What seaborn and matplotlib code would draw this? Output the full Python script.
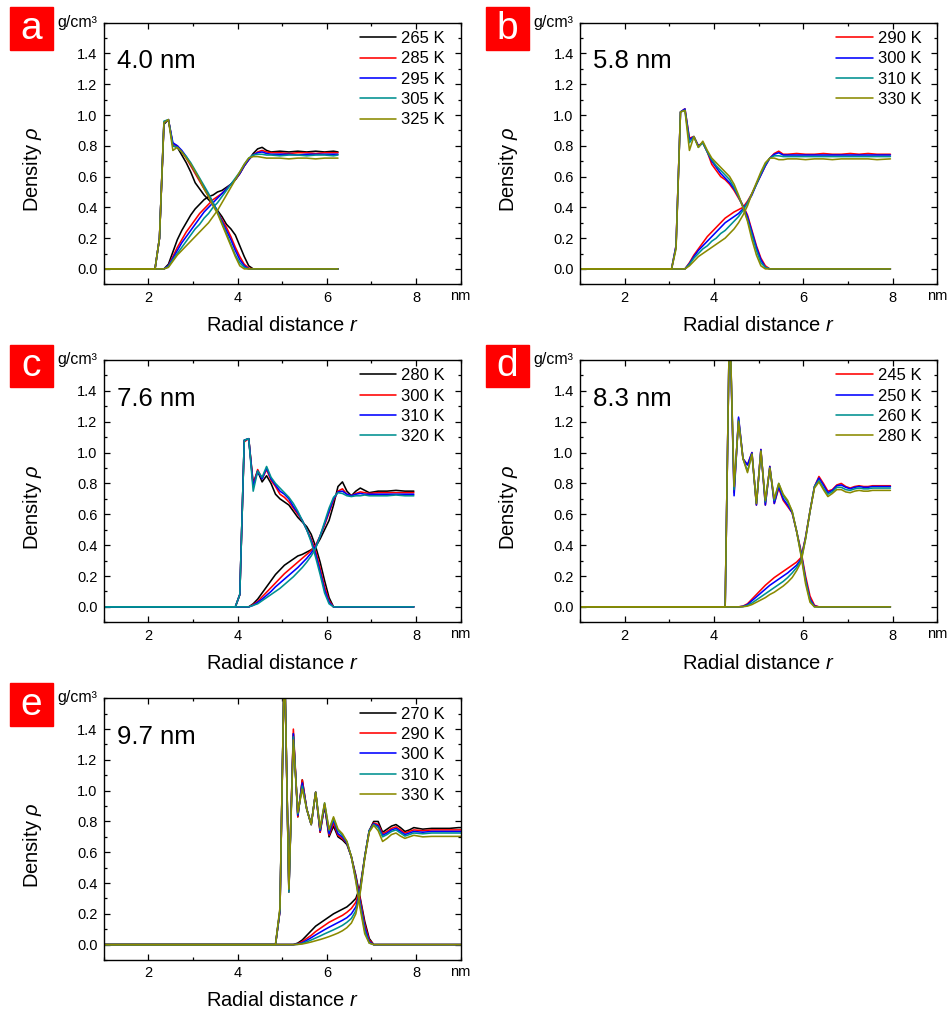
import numpy as np
import pandas as pd
import matplotlib
matplotlib.use("Agg")
import matplotlib.pyplot as plt
from matplotlib.patches import Rectangle
from matplotlib.ticker import MultipleLocator, FixedLocator
import seaborn as sns

# ---------------- data ----------------
# panel a : 4.0 nm
a_temps = ["265 K", "285 K", "295 K", "305 K", "325 K"]
r_a_in = [1.0, 2.15, 2.25, 2.35, 2.45, 2.55, 2.65, 2.75, 2.85, 2.95, 3.05, 3.15, 3.25, 3.35,
          3.45, 3.55, 3.65, 3.75, 3.85, 3.95, 4.05, 4.15, 4.25, 4.35, 6.25]
a_in = [
    [0, 0, 0.20, 0.94, 0.97, 0.80, 0.79, 0.74, 0.69, 0.63, 0.56, 0.52, 0.48, 0.45, 0.42, 0.38, 0.34, 0.29, 0.26, 0.22, 0.15, 0.08, 0.02, 0, 0],
    [0, 0, 0.20, 0.95, 0.97, 0.81, 0.80, 0.76, 0.72, 0.67, 0.62, 0.57, 0.52, 0.47, 0.42, 0.37, 0.32, 0.27, 0.21, 0.14, 0.08, 0.03, 0.005, 0, 0],
    [0, 0, 0.20, 0.95, 0.97, 0.82, 0.80, 0.77, 0.73, 0.68, 0.63, 0.58, 0.53, 0.48, 0.43, 0.37, 0.31, 0.25, 0.19, 0.12, 0.06, 0.02, 0, 0, 0],
    [0, 0, 0.20, 0.96, 0.97, 0.80, 0.79, 0.76, 0.73, 0.69, 0.64, 0.59, 0.54, 0.49, 0.43, 0.37, 0.30, 0.23, 0.16, 0.09, 0.04, 0.01, 0, 0, 0],
    [0, 0, 0.20, 0.95, 0.97, 0.77, 0.79, 0.76, 0.72, 0.68, 0.63, 0.58, 0.52, 0.47, 0.41, 0.36, 0.29, 0.22, 0.15, 0.08, 0.02, 0, 0, 0, 0],
]
r_a_out = [1.0, 2.35, 2.45, 2.55, 2.65, 2.75, 2.85, 2.95, 3.05, 3.15, 3.25, 3.35, 3.45, 3.55,
           3.65, 3.75, 3.85, 3.95, 4.05, 4.15, 4.25, 4.35, 4.45, 4.55, 4.65, 4.75, 4.95, 5.15,
           5.35, 5.55, 5.75, 5.95, 6.15, 6.25]
a_out = [
    [0, 0, 0.03, 0.11, 0.19, 0.25, 0.30, 0.35, 0.39, 0.42, 0.45, 0.47, 0.48, 0.50, 0.51, 0.53, 0.55, 0.58, 0.62, 0.67, 0.71, 0.75, 0.78, 0.79, 0.77, 0.76, 0.765, 0.76, 0.765, 0.76, 0.765, 0.76, 0.765, 0.76],
    [0, 0, 0.02, 0.08, 0.14, 0.19, 0.24, 0.28, 0.32, 0.36, 0.39, 0.42, 0.45, 0.47, 0.49, 0.52, 0.55, 0.58, 0.62, 0.67, 0.71, 0.74, 0.76, 0.77, 0.76, 0.755, 0.755, 0.75, 0.755, 0.755, 0.75, 0.755, 0.755, 0.755],
    [0, 0, 0.02, 0.07, 0.12, 0.17, 0.21, 0.25, 0.29, 0.33, 0.37, 0.40, 0.43, 0.46, 0.49, 0.52, 0.55, 0.58, 0.62, 0.67, 0.71, 0.74, 0.755, 0.76, 0.75, 0.745, 0.745, 0.745, 0.74, 0.745, 0.745, 0.745, 0.745, 0.745],
    [0, 0, 0.015, 0.06, 0.10, 0.14, 0.18, 0.22, 0.26, 0.29, 0.33, 0.36, 0.40, 0.43, 0.47, 0.51, 0.55, 0.59, 0.63, 0.68, 0.72, 0.74, 0.745, 0.745, 0.74, 0.74, 0.735, 0.74, 0.74, 0.735, 0.74, 0.74, 0.735, 0.74],
    [0, 0, 0.01, 0.05, 0.09, 0.12, 0.15, 0.18, 0.21, 0.24, 0.27, 0.30, 0.34, 0.38, 0.43, 0.48, 0.53, 0.58, 0.63, 0.68, 0.72, 0.73, 0.73, 0.725, 0.72, 0.72, 0.72, 0.715, 0.72, 0.72, 0.715, 0.72, 0.72, 0.72],
]

# panel b : 5.8 nm
b_temps = ["290 K", "300 K", "310 K", "330 K"]
r_b_in = [1.0, 3.05, 3.15, 3.25, 3.35, 3.45, 3.55, 3.65, 3.75, 3.85, 3.95, 4.05, 4.15, 4.25,
          4.35, 4.45, 4.55, 4.65, 4.75, 4.85, 4.95, 5.05, 5.15, 5.25, 7.95]
b_in = [
    [0, 0, 0.15, 1.02, 1.04, 0.85, 0.86, 0.80, 0.82, 0.76, 0.68, 0.64, 0.60, 0.58, 0.55, 0.51, 0.46, 0.41, 0.35, 0.25, 0.15, 0.07, 0.02, 0, 0],
    [0, 0, 0.15, 1.02, 1.04, 0.84, 0.86, 0.80, 0.82, 0.76, 0.70, 0.66, 0.62, 0.59, 0.56, 0.52, 0.47, 0.41, 0.34, 0.24, 0.14, 0.06, 0.01, 0, 0],
    [0, 0, 0.14, 1.02, 1.03, 0.82, 0.86, 0.79, 0.82, 0.76, 0.71, 0.67, 0.64, 0.61, 0.58, 0.53, 0.47, 0.40, 0.32, 0.22, 0.12, 0.04, 0.01, 0, 0],
    [0, 0, 0.13, 1.02, 1.03, 0.77, 0.86, 0.79, 0.83, 0.77, 0.72, 0.69, 0.66, 0.63, 0.60, 0.55, 0.48, 0.40, 0.31, 0.19, 0.09, 0.02, 0, 0, 0],
]
r_b_out = [1.0, 3.35, 3.45, 3.55, 3.65, 3.75, 3.85, 3.95, 4.05, 4.15, 4.25, 4.35, 4.45, 4.55,
           4.65, 4.75, 4.85, 4.95, 5.05, 5.15, 5.25, 5.35, 5.45, 5.55, 5.65, 5.85, 6.05, 6.25,
           6.45, 6.65, 6.85, 7.05, 7.25, 7.45, 7.65, 7.95]
b_out = [
    [0, 0, 0.04, 0.09, 0.13, 0.17, 0.21, 0.24, 0.27, 0.30, 0.33, 0.35, 0.37, 0.385, 0.40, 0.44, 0.49, 0.55, 0.61, 0.67, 0.72, 0.75, 0.765, 0.745, 0.745, 0.75, 0.745, 0.745, 0.75, 0.745, 0.745, 0.75, 0.745, 0.75, 0.745, 0.745],
    [0, 0, 0.035, 0.08, 0.12, 0.15, 0.18, 0.21, 0.24, 0.27, 0.30, 0.32, 0.34, 0.36, 0.39, 0.43, 0.48, 0.55, 0.61, 0.67, 0.72, 0.745, 0.755, 0.74, 0.74, 0.74, 0.74, 0.74, 0.74, 0.74, 0.74, 0.74, 0.74, 0.74, 0.74, 0.74],
    [0, 0, 0.03, 0.07, 0.10, 0.13, 0.15, 0.18, 0.20, 0.23, 0.25, 0.28, 0.31, 0.34, 0.38, 0.43, 0.49, 0.55, 0.62, 0.68, 0.72, 0.735, 0.735, 0.73, 0.73, 0.73, 0.73, 0.73, 0.73, 0.73, 0.73, 0.73, 0.73, 0.73, 0.73, 0.73],
    [0, 0, 0.02, 0.05, 0.08, 0.10, 0.12, 0.14, 0.16, 0.18, 0.20, 0.23, 0.26, 0.30, 0.35, 0.41, 0.49, 0.56, 0.63, 0.69, 0.72, 0.72, 0.71, 0.71, 0.715, 0.715, 0.71, 0.715, 0.715, 0.71, 0.715, 0.715, 0.715, 0.715, 0.71, 0.715],
]

# panel c : 7.6 nm
c_temps = ["280 K", "300 K", "310 K", "320 K"]
r_c_in = [1.0, 3.95, 4.05, 4.15, 4.25, 4.35, 4.45, 4.55, 4.65, 4.75, 4.85, 4.95, 5.05, 5.15,
          5.25, 5.35, 5.45, 5.55, 5.65, 5.75, 5.85, 5.95, 6.05, 6.15, 7.95]
c_in = [
    [0, 0, 0.08, 1.08, 1.09, 0.80, 0.88, 0.81, 0.85, 0.80, 0.73, 0.70, 0.68, 0.66, 0.62, 0.58, 0.55, 0.52, 0.47, 0.39, 0.29, 0.17, 0.06, 0, 0],
    [0, 0, 0.08, 1.07, 1.09, 0.79, 0.89, 0.83, 0.89, 0.82, 0.78, 0.73, 0.71, 0.68, 0.64, 0.60, 0.56, 0.50, 0.44, 0.36, 0.25, 0.13, 0.04, 0, 0],
    [0, 0, 0.08, 1.08, 1.09, 0.78, 0.88, 0.83, 0.90, 0.83, 0.79, 0.75, 0.73, 0.70, 0.65, 0.61, 0.56, 0.50, 0.43, 0.34, 0.23, 0.11, 0.03, 0, 0],
    [0, 0, 0.08, 1.08, 1.09, 0.75, 0.88, 0.84, 0.91, 0.84, 0.80, 0.77, 0.74, 0.71, 0.67, 0.62, 0.56, 0.50, 0.42, 0.32, 0.21, 0.09, 0.02, 0, 0],
]
r_c_out = [1.0, 4.25, 4.35, 4.45, 4.55, 4.65, 4.75, 4.85, 4.95, 5.05, 5.15, 5.25, 5.35, 5.45,
           5.55, 5.65, 5.75, 5.85, 5.95, 6.05, 6.15, 6.25, 6.35, 6.45, 6.55, 6.65, 6.75, 6.85,
           6.95, 7.15, 7.35, 7.55, 7.75, 7.95]
c_out = [
    [0, 0, 0.02, 0.05, 0.09, 0.13, 0.17, 0.21, 0.24, 0.27, 0.29, 0.31, 0.33, 0.34, 0.355, 0.37, 0.39, 0.44, 0.50, 0.56, 0.66, 0.78, 0.81, 0.75, 0.72, 0.75, 0.77, 0.755, 0.74, 0.75, 0.75, 0.755, 0.75, 0.75],
    [0, 0, 0.015, 0.035, 0.065, 0.095, 0.125, 0.155, 0.185, 0.215, 0.24, 0.265, 0.29, 0.315, 0.34, 0.365, 0.40, 0.46, 0.53, 0.61, 0.69, 0.75, 0.765, 0.73, 0.72, 0.735, 0.745, 0.74, 0.735, 0.74, 0.74, 0.74, 0.74, 0.74],
    [0, 0, 0.01, 0.03, 0.05, 0.075, 0.10, 0.13, 0.155, 0.18, 0.205, 0.23, 0.255, 0.285, 0.315, 0.35, 0.39, 0.46, 0.54, 0.62, 0.70, 0.745, 0.75, 0.73, 0.72, 0.73, 0.735, 0.73, 0.73, 0.73, 0.73, 0.73, 0.73, 0.73],
    [0, 0, 0.01, 0.02, 0.04, 0.06, 0.08, 0.10, 0.12, 0.145, 0.17, 0.195, 0.225, 0.255, 0.29, 0.33, 0.38, 0.46, 0.55, 0.64, 0.71, 0.74, 0.735, 0.72, 0.715, 0.72, 0.72, 0.725, 0.72, 0.72, 0.72, 0.725, 0.72, 0.72],
]

# panel d : 8.3 nm
d_temps = ["245 K", "250 K", "260 K", "280 K"]
r_d_in = [1.0, 4.25, 4.35, 4.45, 4.55, 4.65, 4.75, 4.85, 4.95, 5.05, 5.15, 5.25, 5.35, 5.45,
          5.55, 5.65, 5.75, 5.85, 5.95, 6.05, 6.15, 6.25, 6.35, 7.95]
d_in = [
    [0, 0, 1.9, 0.74, 1.22, 0.96, 0.92, 1.00, 0.66, 1.02, 0.66, 0.91, 0.67, 0.77, 0.69, 0.65, 0.61, 0.49, 0.36, 0.20, 0.07, 0.01, 0, 0],
    [0, 0, 1.9, 0.72, 1.23, 0.96, 0.92, 1.00, 0.66, 1.02, 0.66, 0.91, 0.67, 0.78, 0.70, 0.66, 0.61, 0.49, 0.35, 0.18, 0.05, 0.005, 0, 0],
    [0, 0, 1.9, 0.76, 1.21, 0.96, 0.88, 0.99, 0.67, 1.01, 0.68, 0.90, 0.69, 0.80, 0.72, 0.68, 0.62, 0.49, 0.34, 0.17, 0.04, 0, 0, 0],
    [0, 0, 1.9, 0.78, 1.20, 0.96, 0.87, 0.99, 0.67, 1.01, 0.69, 0.90, 0.70, 0.80, 0.73, 0.69, 0.62, 0.49, 0.33, 0.15, 0.03, 0, 0, 0],
]
r_d_out = [1.0, 4.55, 4.65, 4.75, 4.85, 4.95, 5.05, 5.15, 5.25, 5.35, 5.45, 5.55, 5.65, 5.75,
           5.85, 5.95, 6.05, 6.15, 6.25, 6.35, 6.45, 6.55, 6.65, 6.75, 6.85, 6.95, 7.05, 7.15,
           7.25, 7.35, 7.45, 7.55, 7.65, 7.75, 7.85, 7.95]
d_out = [
    [0, 0, 0.005, 0.02, 0.05, 0.08, 0.11, 0.14, 0.165, 0.19, 0.21, 0.23, 0.25, 0.27, 0.29, 0.32, 0.45, 0.62, 0.78, 0.845, 0.80, 0.75, 0.76, 0.79, 0.80, 0.78, 0.77, 0.78, 0.785, 0.78, 0.78, 0.785, 0.785, 0.785, 0.785, 0.785],
    [0, 0, 0.003, 0.015, 0.04, 0.065, 0.09, 0.115, 0.14, 0.16, 0.18, 0.20, 0.22, 0.245, 0.27, 0.31, 0.45, 0.62, 0.78, 0.835, 0.79, 0.74, 0.755, 0.785, 0.79, 0.775, 0.765, 0.775, 0.78, 0.775, 0.775, 0.78, 0.78, 0.78, 0.78, 0.78],
    [0, 0, 0.002, 0.01, 0.025, 0.045, 0.065, 0.085, 0.105, 0.125, 0.145, 0.165, 0.19, 0.22, 0.255, 0.30, 0.44, 0.62, 0.78, 0.82, 0.77, 0.73, 0.745, 0.775, 0.775, 0.76, 0.755, 0.765, 0.77, 0.765, 0.765, 0.77, 0.77, 0.77, 0.77, 0.77],
    [0, 0, 0.001, 0.005, 0.015, 0.03, 0.045, 0.06, 0.08, 0.095, 0.115, 0.135, 0.16, 0.19, 0.235, 0.29, 0.44, 0.62, 0.77, 0.81, 0.76, 0.715, 0.735, 0.76, 0.76, 0.745, 0.74, 0.75, 0.755, 0.75, 0.75, 0.755, 0.755, 0.755, 0.755, 0.755],
]

# panel e : 9.7 nm
e_temps = ["270 K", "290 K", "300 K", "310 K", "330 K"]
r_e_in = [1.0, 4.85, 4.95, 5.05, 5.15, 5.25, 5.35, 5.45, 5.55, 5.65, 5.75, 5.85, 5.95, 6.05,
          6.15, 6.25, 6.35, 6.45, 6.55, 6.65, 6.75, 6.85, 6.95, 7.05, 9.25]
e_in = [
    [0, 0, 0.22, 1.9, 0.36, 1.37, 0.83, 1.07, 0.88, 0.78, 0.99, 0.73, 0.90, 0.70, 0.77, 0.70, 0.68, 0.65, 0.57, 0.45, 0.30, 0.15, 0.04, 0, 0],
    [0, 0, 0.22, 1.9, 0.34, 1.40, 0.83, 1.07, 0.88, 0.78, 0.99, 0.73, 0.91, 0.71, 0.79, 0.71, 0.69, 0.66, 0.57, 0.44, 0.29, 0.13, 0.03, 0, 0],
    [0, 0, 0.22, 1.9, 0.35, 1.37, 0.84, 1.05, 0.88, 0.78, 0.99, 0.74, 0.91, 0.72, 0.81, 0.72, 0.70, 0.66, 0.57, 0.43, 0.27, 0.11, 0.02, 0, 0],
    [0, 0, 0.23, 1.9, 0.34, 1.35, 0.85, 1.03, 0.88, 0.78, 0.99, 0.75, 0.92, 0.74, 0.82, 0.74, 0.71, 0.67, 0.57, 0.42, 0.25, 0.09, 0.01, 0, 0],
    [0, 0, 0.24, 1.9, 0.36, 1.33, 0.86, 1.01, 0.88, 0.78, 0.99, 0.76, 0.92, 0.75, 0.83, 0.75, 0.72, 0.67, 0.57, 0.41, 0.23, 0.07, 0.01, 0, 0],
]
r_e_out = [1.0, 5.25, 5.35, 5.45, 5.55, 5.65, 5.75, 5.85, 5.95, 6.05, 6.15, 6.25, 6.35, 6.45,
           6.55, 6.65, 6.75, 6.85, 6.95, 7.05, 7.15, 7.25, 7.35, 7.45, 7.55, 7.65, 7.75, 7.85,
           7.95, 8.15, 8.35, 8.55, 8.75, 8.95, 9.25]
e_out = [
    [0, 0, 0.01, 0.03, 0.06, 0.09, 0.12, 0.14, 0.16, 0.18, 0.20, 0.215, 0.23, 0.245, 0.27, 0.30, 0.38, 0.57, 0.74, 0.80, 0.80, 0.73, 0.75, 0.77, 0.78, 0.76, 0.735, 0.745, 0.76, 0.75, 0.755, 0.755, 0.755, 0.76, 0.76],
    [0, 0, 0.005, 0.02, 0.04, 0.06, 0.085, 0.105, 0.125, 0.145, 0.16, 0.175, 0.19, 0.21, 0.235, 0.275, 0.37, 0.57, 0.74, 0.79, 0.78, 0.72, 0.735, 0.755, 0.765, 0.745, 0.725, 0.735, 0.745, 0.74, 0.745, 0.745, 0.745, 0.745, 0.745],
    [0, 0, 0.003, 0.012, 0.028, 0.045, 0.063, 0.08, 0.097, 0.113, 0.128, 0.143, 0.158, 0.175, 0.20, 0.245, 0.36, 0.57, 0.74, 0.785, 0.77, 0.71, 0.725, 0.745, 0.755, 0.735, 0.715, 0.725, 0.735, 0.73, 0.735, 0.735, 0.735, 0.735, 0.735],
    [0, 0, 0.002, 0.008, 0.018, 0.03, 0.043, 0.056, 0.07, 0.083, 0.096, 0.11, 0.125, 0.145, 0.17, 0.22, 0.35, 0.57, 0.74, 0.78, 0.76, 0.70, 0.715, 0.735, 0.745, 0.725, 0.705, 0.715, 0.725, 0.72, 0.725, 0.725, 0.725, 0.725, 0.725],
    [0, 0, 0.001, 0.004, 0.01, 0.017, 0.025, 0.033, 0.042, 0.052, 0.063, 0.075, 0.09, 0.11, 0.14, 0.20, 0.34, 0.56, 0.73, 0.775, 0.74, 0.67, 0.69, 0.715, 0.725, 0.705, 0.69, 0.70, 0.71, 0.70, 0.703, 0.703, 0.703, 0.703, 0.703],
]

letters = ["a", "b", "c", "d", "e"]
sizes = ["4.0 nm", "5.8 nm", "7.6 nm", "8.3 nm", "9.7 nm"]

# ---------------- style ----------------
BLACK, RED, BLUE, TEAL, OLIVE = "#000000", "#ff0000", "#0000ff", "#009090", "#8a8a00"
a_colors = [BLACK, RED, BLUE, TEAL, OLIVE]
b_colors = [RED, BLUE, TEAL, OLIVE]
c_colors = [BLACK, RED, BLUE, TEAL]
d_colors = [RED, BLUE, TEAL, OLIVE]
e_colors = [BLACK, RED, BLUE, TEAL, OLIVE]

sns.set_style("ticks")
plt.rcParams["font.family"] = ["Liberation Sans", "DejaVu Sans"]
plt.rcParams["mathtext.fontset"] = "custom"
plt.rcParams["mathtext.rm"] = "Liberation Sans"
plt.rcParams["mathtext.it"] = "Liberation Sans:italic"
for key in ["text.color", "axes.labelcolor", "xtick.color", "ytick.color", "axes.edgecolor"]:
    plt.rcParams[key] = "black"

W, H = 951, 1011
fig = plt.figure(figsize=(W / 100, H / 100), dpi=100)

# axes boxes in pixels: left, top, right, bottom
boxes = [(103.7, 22.7, 460.7, 284.3), (580, 22.7, 937.3, 284.3),
         (103.7, 360, 460.7, 622.3), (580, 360, 937.3, 622.3),
         (103.7, 698.3, 460.7, 960)]

panels = [
    (a_temps, a_colors, r_a_in, a_in, r_a_out, a_out),
    (b_temps, b_colors, r_b_in, b_in, r_b_out, b_out),
    (c_temps, c_colors, r_c_in, c_in, r_c_out, c_out),
    (d_temps, d_colors, r_d_in, d_in, r_d_out, d_out),
    (e_temps, e_colors, r_e_in, e_in, r_e_out, e_out),
]

for i, (temps, colors, r_in, v_in, r_out, v_out) in enumerate(panels):
    L, T, R, B = boxes[i]
    aw, ah = R - L, B - T
    ax = fig.add_axes([L / W, 1 - B / H, aw / W, ah / H])
    for k, t in enumerate(temps):
        sns.lineplot(x=r_in, y=v_in[k], color=colors[k], lw=1.15, ax=ax,
                     label=t, estimator=None)
        sns.lineplot(x=r_out, y=v_out[k], color=colors[k], lw=1.15, ax=ax,
                     estimator=None)
    ax.set_xlim(1, 9)
    ax.set_ylim(-0.1, 1.6)
    ax.xaxis.set_major_locator(FixedLocator([2, 4, 6, 8]))
    ax.xaxis.set_minor_locator(MultipleLocator(1))
    ax.yaxis.set_major_locator(FixedLocator(np.arange(0, 1.41, 0.2)))
    ax.yaxis.set_minor_locator(MultipleLocator(0.1))
    ax.set_yticklabels([f"{v:.1f}" for v in np.arange(0, 1.41, 0.2)])
    ax.tick_params(which="both", direction="in", top=True, right=True,
                   width=0.9, labelsize=10.5)
    ax.tick_params(which="major", length=4, pad=4.5)
    ax.tick_params(which="minor", length=2.4)
    for s in ax.spines.values():
        s.set_linewidth(1.0)

    ax.set_xlabel("Radial distance $r$", fontsize=14.5, labelpad=8)
    ax.set_ylabel("Density $\\rho$", fontsize=14.5)
    ax.yaxis.set_label_coords(-0.168, 0.44)

    ax.text(1.0, -0.046, "nm", transform=ax.transAxes, ha="center", va="center",
            fontsize=10.5)
    ax.text(-6.7 / aw, 1 - 4 / ah, "g/cm³", transform=ax.transAxes,
            ha="right", va="baseline", fontsize=11.5)
    ax.text(13 / aw, 1 - 45.6 / ah, sizes[i], transform=ax.transAxes,
            ha="left", va="baseline", fontsize=18.5)

    ax.legend(loc="upper right", bbox_to_anchor=(1 - 15.7 / aw, 1 - 8.3 / ah),
              frameon=False, fontsize=12, handlelength=2.2, handletextpad=0.3,
              labelspacing=0.32, borderaxespad=0, borderpad=0)

    # red letter box
    bx, by, bs = L - 93.7, T - 15.4, 42.7
    fig.patches.append(Rectangle((bx / W, 1 - (by + bs) / H), bs / W, bs / H,
                                 transform=fig.transFigure, color="#ff0000",
                                 zorder=5))
    fig.text((bx + bs / 2) / W, 1 - (by + 31.7) / H, letters[i], color="white",
             fontsize=28, ha="center", va="baseline", zorder=6)

fig.savefig("out.png", dpi=100)
